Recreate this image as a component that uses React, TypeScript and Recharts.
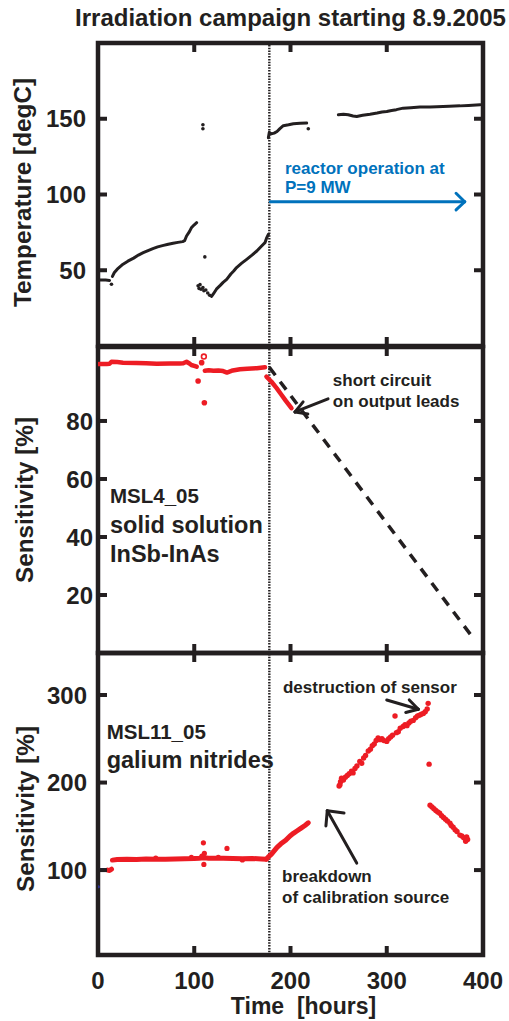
import React from 'react';
import { ComposedChart, Line, Scatter, XAxis, YAxis, ReferenceLine, ReferenceArea, ReferenceDot } from 'recharts';

const FONT = '"Liberation Sans", Arial, Helvetica, sans-serif';
const INK = '#231f20';
const RED = '#ed1c24';
const BLUE = '#0072bc';
const NAVY = '#2e3192';

type P = [number, number];

// ---- axes ----
const timeTicks = [0, 100, 200, 300, 400];
const innerTimeTicks = [100, 200, 300];
const tempTicks = [50, 100, 150];
const sens4Ticks = [20, 40, 60, 80];
const sens11Ticks = [100, 200, 300];
const reactorStart = 178;

// ---- panel 1: temperature [degC] vs time [hours] ----
const tempInitial: P[] = [[0, 43.5], [4, 43.6], [8, 43.5], [12, 43.3]];
const tempWarmup: P[] = [[15, 46], [17, 48.5], [20, 50.7], [26, 54], [31, 56], [37, 58], [42, 60], [47, 61.6], [52, 63], [57, 64.3], [62, 65.4], [68, 66.4], [73, 67.2], [78, 67.8], [83, 68.4], [88, 68.9], [90, 69.5], [92, 72.6], [95, 75.5], [97, 78], [100, 80], [102.5, 81.4]];
const tempRecovery: P[] = [[118, 32.7], [120, 34.5], [123, 37.5], [127, 40], [130, 42], [133.7, 44], [138, 47.5], [141, 49.5], [144, 51.8], [149, 54.5], [154.5, 57.2], [160, 60], [165, 62.7], [170, 66], [173.5, 68.2], [175, 71], [177, 73.7]];
const tempReactorA: P[] = [[177, 137.5], [178, 141], [180, 140], [183, 140.5], [186, 141.6], [189, 143.5], [192.5, 145.4], [198, 146], [203, 146.7], [210, 147], [216.8, 147.2]];
const tempReactorB: P[] = [[249.7, 152.6], [255, 153], [260, 152.6], [265, 151.8], [268.8, 151.5], [275, 152.3], [282.6, 153], [290, 153.8], [295, 154.5], [300, 154.8], [305, 155.5], [310, 156], [317, 157], [325, 157.3], [334.5, 157.7], [345, 157.8], [352, 158], [365, 158.3], [376, 158.5], [385, 158.8], [397, 159.2]];
const tempScattered: P[] = [[14, 40.8], [104, 39.7], [105, 38], [106, 40.5], [107, 37.5], [109, 38.5], [110, 36.5], [112, 37], [114, 35], [116, 33.5], [109, 146], [109, 143.4], [111, 58.8], [218.5, 143.4]];

// ---- panel 2: MSL4_05 sensitivity [%] ----
const msl4Before: P[] = [[1, 99.6], [5, 99.6], [9, 99.6], [12, 99.7], [14, 100.4], [20, 100.3], [26, 100.1], [40, 100], [50, 99.9], [61, 99.7], [75, 99.8], [85, 99.8], [88.6, 99.9], [92, 100.4], [95, 99.8], [97, 99.3], [100, 99], [102.5, 98.7]];
const msl4Middle: P[] = [[111, 97.3], [115, 97.5], [120, 97.3], [125, 97.4], [130, 97.2], [134, 96.7], [140, 97.4], [147.5, 97.8], [155, 98], [165, 98.2], [173.5, 98.5]];
const msl4Drop: P[] = [[175, 95.3], [180, 93.6], [185.6, 91.3], [190, 89.3], [195, 87], [201, 84.4]];
const msl4Outliers: P[] = [[104, 93.8], [107.7, 100.1], [110.5, 86.3]];
const msl4OpenOutliers: P[] = [[110, 102.2]];
const msl4Extrapolation: P[] = [[178, 98.5], [389, 5.5]];

// ---- panel 3: MSL11_05 sensitivity [%] ----
const msl11Reference: P[] = [[2, 100], [9, 100]];
const msl11RefOutlier: P[] = [[0.5, 81]];
const msl11Start: P[] = [[10, 100], [12, 99.5], [14, 101]];
const msl11Flat: P[] = [[15, 111.4], [20, 112], [30, 112.4], [40, 112], [50, 112.6], [60, 112.3], [70, 112.5], [80, 112.8], [90, 113], [100, 113.2], [105, 113.5], [110, 114], [115, 113.5], [120, 113.6], [130, 113.4], [140, 113.2], [150, 113], [160, 113.3], [170, 112.8], [175, 112.5]];
const msl11Rise: P[] = [[175, 112.5], [177, 115], [180, 118], [183, 122], [186, 126], [190, 130], [195, 134], [199.5, 139], [203, 142], [207, 145], [211, 148], [215, 151], [218.5, 154]];
const msl11Noise: P[] = [[109.5, 131.2], [110, 106.5], [110.5, 119], [134, 124.8], [108, 116], [125, 114.5], [97, 114.5], [60, 113.8], [150, 111.5]];
const msl11AfterBreakdown: P[] = [[250.5, 196], [251.4, 197.5], [252, 201], [253, 205], [255, 203], [257, 206], [259, 208], [261, 210], [263.4, 213], [265, 211], [267, 216], [269, 219], [272, 224], [274, 222], [276, 228], [278, 231], [280.8, 236], [283, 238], [285, 242], [287, 244], [289, 248], [291, 251], [293, 249], [295, 250], [297, 248], [300, 247], [302, 250], [304, 252], [306, 254], [310, 257], [312, 258], [314, 262], [317, 264], [319, 266], [321, 265], [323, 268], [325, 270], [327.5, 271], [330, 274], [332, 276], [334, 277], [336, 278], [338, 279], [340, 281], [342, 284], [343, 290.5], [308.6, 276], [344, 221]];
const msl11Decline: P[] = [[345, 174], [347, 172], [349, 170], [351, 168], [353, 166.5], [355, 165], [357, 162], [359, 160], [361, 158], [363, 156], [365.7, 153.5], [367, 151], [369, 149], [371, 146], [373, 144], [376, 140], [378, 139], [380, 137], [382, 133], [383, 138], [384, 135]];

const toPts = (a: P[]) => a.map(([t, v]) => ({ t, v }));

const dot = (r: number, fill: string, stroke?: string) => (p: any) => (
  <circle cx={p.cx} cy={p.cy} r={r} fill={fill} stroke={stroke ?? 'none'} strokeWidth={1.6} />
);

const PLOT_W = 385; // px of the time axis
const TICK_PX = 9; // tick length measured from the frame edge
const textStyle = (size: number) => ({ fontSize: size, fontWeight: 700, fill: INK, fontFamily: FONT });

const leftLabel = (size: number) => (p: any) => (
  <text x={p.x} y={p.y} dy="0.36em" textAnchor="end" {...textStyle(size)}>
    {p.payload.value}
  </text>
);
const bottomLabel = (size: number) => (p: any) => (
  <text x={p.x} y={p.y} dy="0.71em" textAnchor="middle" {...textStyle(size)}>
    {p.payload.value}
  </text>
);

// tick mark anchored at the inner end of the tick; (ux, uy) points towards the frame
const tickMark = (key: string, x: number, y: number, ux: number, uy: number) => (
  <ReferenceDot
    key={key}
    x={x}
    y={y}
    r={0}
    ifOverflow="visible"
    shape={(p: any) => (
      <line
        x1={p.cx}
        y1={p.cy}
        x2={p.cx + ux * TICK_PX}
        y2={p.cy + uy * TICK_PX}
        stroke={INK}
        strokeWidth={4}
      />
    )}
  />
);

function frame(
  key: string,
  yDomain: [number, number],
  plotH: number,
  yTicks: number[],
  tickFont: number,
  tickMargin: number,
  withTimeLabels: boolean,
  yTitle: string,
  titleX: number,
  titleDy: number,
) {
  const dx = (400 / PLOT_W) * TICK_PX;
  const dy = ((yDomain[1] - yDomain[0]) / plotH) * TICK_PX;
  const ticks: any[] = [];
  yTicks.forEach((v) => {
    ticks.push(tickMark(key + 'l' + v, dx, v, -1, 0));
    ticks.push(tickMark(key + 'r' + v, 400 - dx, v, 1, 0));
  });
  innerTimeTicks.forEach((t) => {
    ticks.push(tickMark(key + 't' + t, t, yDomain[1] - dy, 0, -1));
    ticks.push(tickMark(key + 'b' + t, t, yDomain[0] + dy, 0, 1));
  });
  return [
    <XAxis
      key={key + 'xb'}
      type="number"
      dataKey="t"
      domain={[0, 400]}
      allowDataOverflow
      orientation="bottom"
      ticks={timeTicks}
      interval={0}
      hide={!withTimeLabels}
      height={withTimeLabels ? 66 : 0}
      axisLine={false}
      tickLine={false}
      tickSize={0}
      tickMargin={17}
      tick={bottomLabel(24)}
      label={
        withTimeLabels
          ? {
              content: (props: any) => {
                const vb = props.viewBox;
                return (
                  <text x={vb.x + vb.width / 2 + 13} y={vb.y + 59} textAnchor="middle" {...textStyle(23)}>
                    {'Time\u00a0 [hours]'}
                  </text>
                );
              },
            }
          : undefined
      }
    />,
    <YAxis
      key={key + 'yl'}
      type="number"
      dataKey="v"
      domain={yDomain}
      allowDataOverflow
      ticks={yTicks}
      interval={0}
      width={98}
      axisLine={false}
      tickLine={false}
      tickSize={0}
      tickMargin={tickMargin}
      tick={leftLabel(tickFont)}
      label={{
        content: (props: any) => {
          const vb = props.viewBox;
          const cx = titleX;
          const cy = vb.y + vb.height / 2 + titleDy;
          return (
            <text x={cx} y={cy} transform={`rotate(-90 ${cx} ${cy})`} textAnchor="middle" {...textStyle(24.3)}>
              {yTitle}
            </text>
          );
        },
      }}
    />,
    <ReferenceArea
      key={key + 'border'}
      x1={0}
      x2={400}
      y1={yDomain[0]}
      y2={yDomain[1]}
      fill="none"
      stroke={INK}
      strokeWidth={4.5}
      ifOverflow="visible"
    />,
    ...ticks,
    <ReferenceLine key={key + 'start'} x={reactorStart} stroke={INK} strokeWidth={2.4} strokeDasharray="1.5 1.3" ifOverflow="visible" />,
  ];
}

const note = (key: string, x: number, y: number, text: string, size: number, color: string = INK, anchor: string = 'start') => (
  <ReferenceDot
    key={key}
    x={x}
    y={y}
    r={0}
    ifOverflow="visible"
    shape={(p: any) => (
      <text x={p.cx} y={p.cy} textAnchor={anchor} fontSize={size} fontWeight={700} fill={color} fontFamily={FONT}>
        {text}
      </text>
    )}
  />
);

const seg = (key: string, a: P, b: P, color: string = INK, w: number = 3) => (
  <ReferenceLine
    key={key}
    segment={[{ x: a[0], y: a[1] }, { x: b[0], y: b[1] }]}
    stroke={color}
    strokeWidth={w}
    strokeLinecap="round"
    ifOverflow="visible"
  />
);

const line = (key: string, data: P[], color: string, w: number, dash?: string) => (
  <Line
    key={key}
    data={toPts(data)}
    dataKey="v"
    type="linear"
    stroke={color}
    strokeWidth={w}
    strokeDasharray={dash}
    strokeLinecap={dash ? 'butt' : 'round'}
    strokeLinejoin="round"
    dot={false}
    activeDot={false}
    isAnimationActive={false}
  />
);

const scatter = (key: string, data: P[], shape: any) => (
  <Scatter key={key} data={toPts(data)} dataKey="v" shape={shape} isAnimationActive={false} />
);

export default function App() {
  return (
    <div style={{ position: 'absolute', left: 0, top: 0, width: 509, height: 1021, background: '#fff' }}>
      <div style={{ position: 'absolute', left: 0, top: 0 }}>
        <ComposedChart width={509} height={350} margin={{ top: 43, right: 26, bottom: 4, left: 0 }}>
          {frame('p1', [0, 200], 303, tempTicks, 24, 12, false, 'Temperature [degC]', 31, -2)}
          {note('title', 200, 211.5, 'Irradiation campaign starting 8.9.2005', 24, INK, 'middle')}
          {line('t1', tempInitial, INK, 3)}
          {line('t2', tempWarmup, INK, 3)}
          {line('t3', tempRecovery, INK, 3)}
          {line('t4', tempReactorA, INK, 3)}
          {line('t5', tempReactorB, INK, 3)}
          {scatter('t6', tempScattered, dot(1.8, INK))}
          {seg('ba', [179, 95.2], [381, 95.2], BLUE, 3)}
          {seg('bw1', [381, 95.2], [372, 100.8], BLUE, 3)}
          {seg('bw2', [381, 95.2], [372, 89.8], BLUE, 3)}
          {note('n1', 194.3, 113.5, 'reactor operation at', 17, BLUE)}
          {note('n2', 194.3, 100.8, 'P=9 MW', 17, BLUE)}
        </ComposedChart>
      </div>
      <div style={{ position: 'absolute', left: 0, top: 340 }}>
        <ComposedChart width={509} height={320} margin={{ top: 7, right: 26, bottom: 7, left: 0 }}>
          {frame('p2', [0, 105.5], 306, sens4Ticks, 24, 5, false, 'Sensitivity [%]', 33, 0)}
          {line('m0', msl4Extrapolation, INK, 3.5, '10 8')}
          {line('m1', msl4Before, RED, 4.5)}
          {line('m2', msl4Middle, RED, 4.5)}
          {line('m3', msl4Drop, RED, 4.5)}
          {scatter('m4', msl4Outliers, dot(2.8, RED))}
          {scatter('m5', msl4OpenOutliers, dot(2.4, '#fff', RED))}
          {note('n3', 12.5, 51.7, 'MSL4_05', 20.5)}
          {note('n4', 12.5, 41.5, 'solid solution', 23.5)}
          {note('n5', 12.5, 31.5, 'InSb-InAs', 23.5)}
          {note('n6', 244, 92.1, 'short circuit', 17)}
          {note('n7', 244, 84.9, 'on output leads', 17)}
          {seg('sa', [239, 87.6], [204.7, 83.1])}
          {seg('sw1', [204.7, 83.1], [218, 82.4])}
          {seg('sw2', [204.7, 83.1], [213.1, 86.6])}
        </ComposedChart>
      </div>
      <div style={{ position: 'absolute', left: 0, top: 645 }}>
        <ComposedChart width={509} height={376} margin={{ top: 8, right: 26, bottom: 0, left: 0 }}>
          {frame('p3', [3, 348], 302, sens11Ticks, 24, 11, true, 'Sensitivity [%]', 34, 5)}
          {line('g1', msl11Reference, NAVY, 4)}
          {scatter('g2', msl11RefOutlier, dot(1.5, NAVY))}
          {line('g3', msl11Start, RED, 5)}
          {line('g4', msl11Flat, RED, 5)}
          {line('g5', msl11Rise, RED, 5)}
          {scatter('g6', msl11Noise, dot(2.6, RED))}
          {scatter('g7', msl11AfterBreakdown, dot(2.7, RED))}
          {scatter('g8', msl11Decline, dot(2.7, RED))}
          {note('n8', 9, 249.4, 'MSL11_05', 20.5)}
          {note('n9', 9, 216.6, 'galium nitrides', 23.5)}
          {note('n10', 192.2, 302, 'destruction of sensor', 17)}
          {seg('da', [300, 294.3], [332.8, 283.7])}
          {seg('dw1', [332.8, 283.7], [323.4, 294.4])}
          {seg('dw2', [332.8, 283.7], [319.7, 280.1])}
          {note('n11', 191.2, 86.7, 'breakdown', 17)}
          {note('n12', 191.2, 62.4, 'of calibration source', 17)}
          {seg('ka', [268.8, 108], [238.2, 167.8])}
          {seg('kw1', [238.2, 167.8], [236.8, 150.4])}
          {seg('kw2', [238.2, 167.8], [255.6, 165.2])}
        </ComposedChart>
      </div>
    </div>
  );
}
